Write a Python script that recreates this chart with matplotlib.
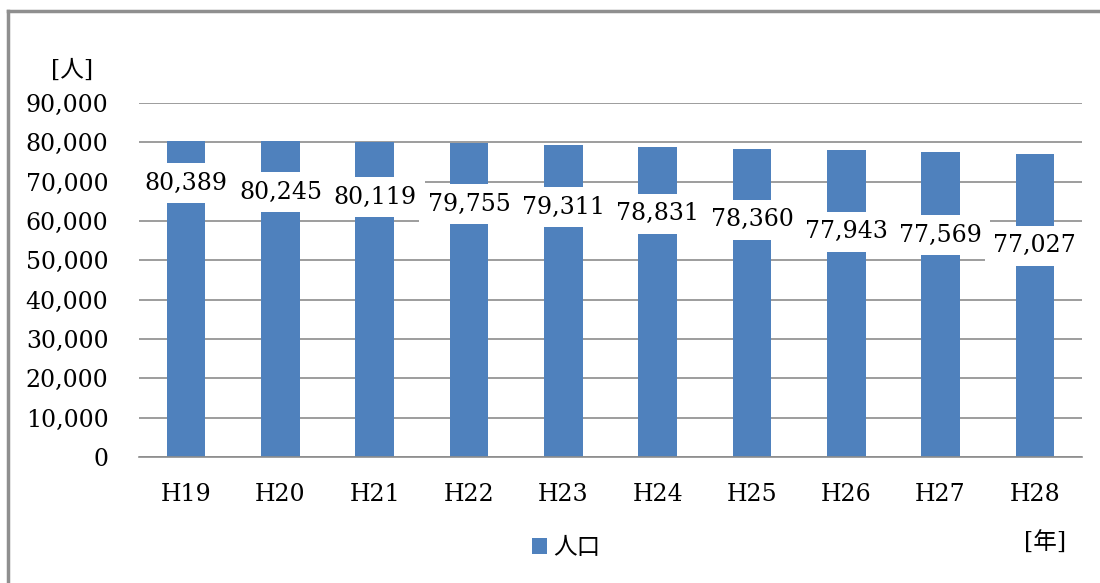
import matplotlib
matplotlib.use("Agg")
import matplotlib.pyplot as plt
from matplotlib.lines import Line2D
from matplotlib.ticker import FuncFormatter, MultipleLocator

# Population by fiscal year (Heisei era)
years = ["H19", "H20", "H21", "H22", "H23", "H24", "H25", "H26", "H27", "H28"]
population = [80389, 80245, 80119, 79755, 79311, 78831, 78360, 77943, 77569, 77027]
series_name = "人口"

# Vertical placement of each value label (data units)
label_y = [69600, 67300, 66000, 64300, 63500, 61900, 60300, 57300, 56400, 53700]

FONT = ["DejaVu Serif", "Noto Sans CJK JP"]
plt.rcParams["font.family"] = FONT

W, H = 1100, 583
fig = plt.figure(figsize=(W / 100, H / 100), dpi=100)
fig.patch.set_facecolor("white")

ax = fig.add_axes([139 / W, 1 - 457 / H, (1082 - 139) / W, (457 - 103) / H])

bar_color = "#4F81BD"
grid_color = "#8C8C8C"

x = list(range(len(years)))
ax.bar(x, population, width=0.41, color=bar_color, zorder=2, label=series_name)

ax.set_xlim(-0.5, len(years) - 0.5)
ax.set_ylim(0, 90000)
ax.yaxis.set_major_locator(MultipleLocator(10000))
ax.yaxis.set_major_formatter(FuncFormatter(lambda v, p: f"{int(v):,}"))
ax.grid(axis="y", color=grid_color, linewidth=1.2, zorder=0)
ax.set_axisbelow(True)

for side in ("top", "right", "left"):
    ax.spines[side].set_visible(False)
ax.spines["bottom"].set_color(grid_color)
ax.spines["bottom"].set_linewidth(1.2)

ax.tick_params(axis="both", length=0, labelsize=17, colors="black")
ax.tick_params(axis="y", pad=22)
ax.tick_params(axis="x", pad=19)
ax.set_xticks(x)
ax.set_xticklabels(years)

for xi, v, ly in zip(x, population, label_y):
    ax.text(xi, ly, f"{v:,}", ha="center", va="center", fontsize=17,
            zorder=3,
            bbox=dict(boxstyle="square,pad=0.36", facecolor="white",
                      edgecolor="none"))

# Unit labels
fig.text(72 / W, 1 - 70 / H, "[人]", ha="center", va="center", fontsize=17,
         family=FONT)
fig.text(1045 / W, 1 - 543 / H, "[年]", ha="center", va="center", fontsize=17,
         family=FONT)

leg = fig.legend(loc="center", bbox_to_anchor=(566 / W, 1 - 548 / H),
                 frameon=False, fontsize=17, handlelength=0.65,
                 handleheight=0.65, handletextpad=0.25)

# Outer chart frame (top and left edges)
frame_kw = dict(color="#8F8F8F", linewidth=2.5, transform=fig.transFigure)
fig.add_artist(Line2D([8 / W, 1.0], [1 - 11 / H, 1 - 11 / H], **frame_kw))
fig.add_artist(Line2D([8 / W, 8 / W], [0.0, 1 - 11 / H], **frame_kw))

fig.savefig("out.png", dpi=100, facecolor="white")
